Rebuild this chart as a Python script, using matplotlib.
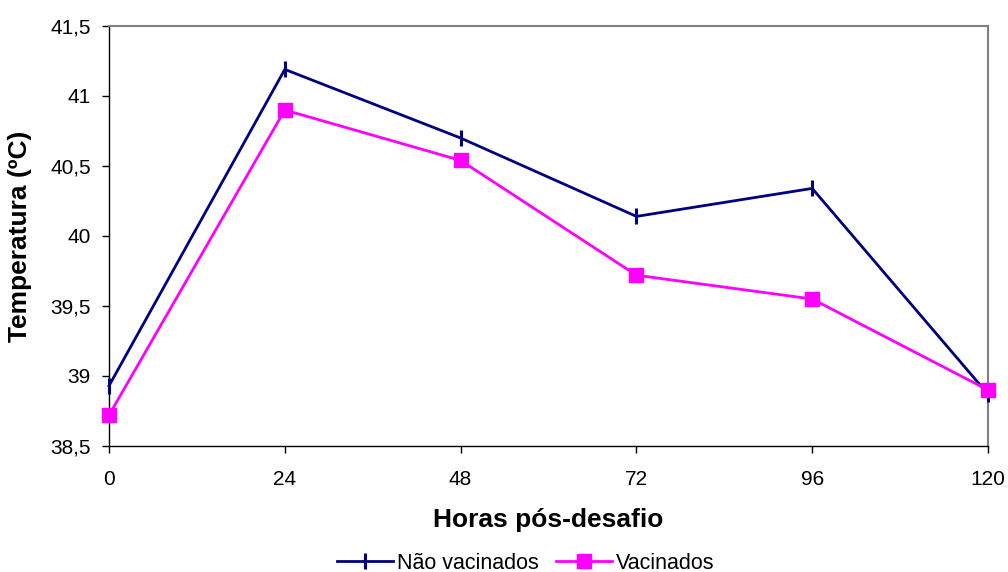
import matplotlib
matplotlib.use("Agg")
import matplotlib.pyplot as plt
from matplotlib.ticker import FuncFormatter

plt.rcParams['font.family'] = ['Liberation Sans', 'DejaVu Sans']

# dados
horas = [0, 24, 48, 72, 96, 120]
nao_vacinados = [38.93, 41.19, 40.70, 40.14, 40.34, 38.87]
vacinados = [38.72, 40.90, 40.54, 39.72, 39.55, 38.90]
y_ticks = [38.5, 39, 39.5, 40, 40.5, 41, 41.5]

fig = plt.figure(figsize=(10.08, 5.72), dpi=100)
ax = fig.add_axes([109/1008, 1 - 446/572, (988-109)/1008, (446-26)/572])

ax.plot(horas, nao_vacinados, color='#000080', lw=2, marker='|', ms=11, mew=2.2,
        label='Não vacinados', clip_on=False, zorder=3)
ax.plot(horas, vacinados, color='#FF00FF', lw=2, marker='s', ms=10,
        label='Vacinados', clip_on=False, zorder=4)

ax.set_xlim(0, 120)
ax.set_ylim(38.5, 41.5)
ax.set_xticks(horas)
ax.set_yticks(y_ticks)
ax.yaxis.set_major_formatter(FuncFormatter(lambda v, p: ('%g' % v).replace('.', ',')))
ax.tick_params(labelsize=15, length=5, width=1, direction='out')
ax.tick_params(axis='x', pad=12)
ax.tick_params(axis='y', pad=8)

for s in ['top', 'right']:
    ax.spines[s].set_color('#808080')
    ax.spines[s].set_linewidth(1.5)
for s in ['left', 'bottom']:
    ax.spines[s].set_color('black')
    ax.spines[s].set_linewidth(1)

ax.set_xlabel('Horas pós-desafio', fontsize=19, fontweight='bold', va='center')
ax.set_ylabel('Temperatura (ºC)', fontsize=19, fontweight='bold', va='center')
ax.xaxis.set_label_coords(0.5, -0.176)
ax.yaxis.set_label_coords(-0.101, 0.5)

ax.legend(loc='center', bbox_to_anchor=(0.474, -0.279), ncol=2, frameon=False,
          fontsize=15.5, handlelength=2.6, columnspacing=0.8, handletextpad=0.2)

fig.savefig('out.png', dpi=100)
